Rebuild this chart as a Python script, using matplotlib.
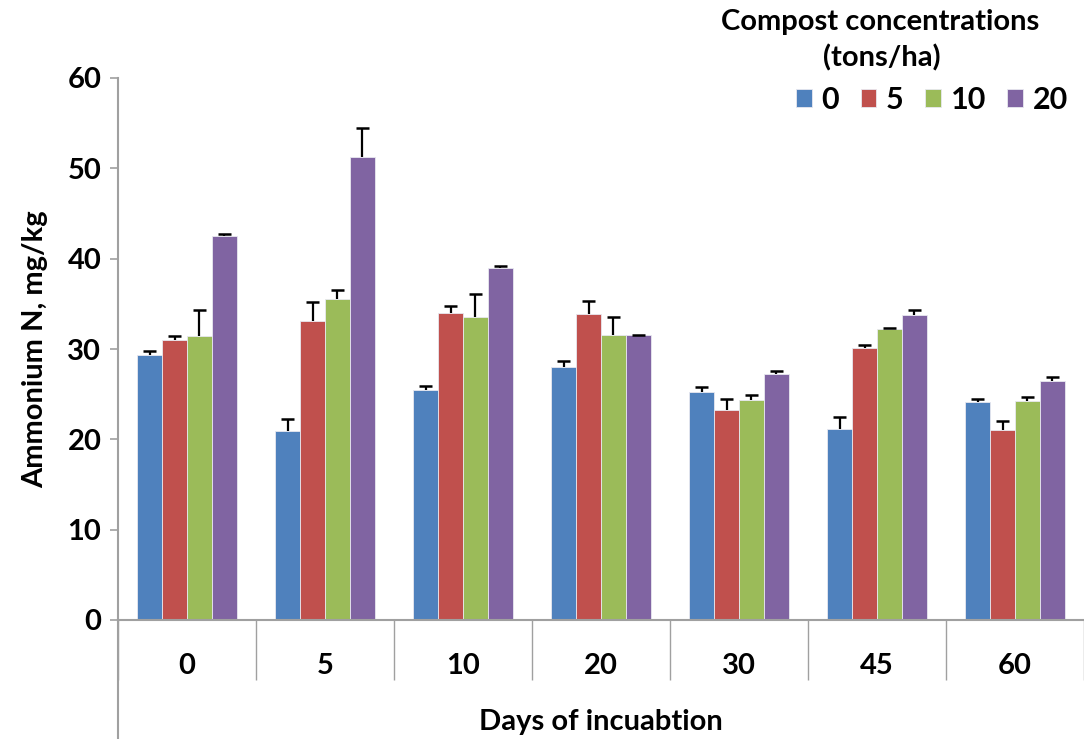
import matplotlib.pyplot as plt
import numpy as np

# days of incubation (x categories) and compost levels (series)
days = ['0', '5', '10', '20', '30', '45', '60']
levels = ['0', '5', '10', '20']

# mean ammonium N, mg/kg, one list per compost level
c0 = [29.3, 20.9, 25.5, 28.0, 25.2, 21.1, 24.1]
c5 = [31.0, 33.1, 34.0, 33.9, 23.2, 30.1, 21.0]
c10 = [31.4, 35.5, 33.5, 31.6, 24.4, 32.2, 24.2]
c20 = [42.5, 51.2, 39.0, 31.5, 27.2, 33.8, 26.5]

# error bar sizes (upper only)
e0 = [0.5, 1.35, 0.4, 0.7, 0.6, 1.4, 0.4]
e5 = [0.4, 2.1, 0.8, 1.4, 1.3, 0.3, 1.0]
e10 = [2.9, 1.0, 2.6, 1.9, 0.5, 0.15, 0.5]
e20 = [0.2, 3.3, 0.2, 0.05, 0.4, 0.5, 0.4]

colors = ['#4F81BD', '#C0504D', '#9BBB59', '#8064A2']

plt.rcParams['font.family'] = ['Lato', 'DejaVu Sans']
plt.rcParams['font.weight'] = 'bold'

fig = plt.figure(figsize=(10.84, 7.39), dpi=100)
ax = fig.add_axes([118 / 1084, 119 / 739, 966 / 1084, 542 / 739])

x = np.arange(len(days))
w = 0.181
cap = 0.045
series = [c0, c5, c10, c20]
errs = [e0, e5, e10, e20]
for i in range(4):
    pos = x + (i - 1.5) * w
    vals = np.array(series[i])
    top = vals + np.array(errs[i])
    ax.bar(pos, vals, w, color=colors[i], edgecolor='#E8E8F0', linewidth=0.6,
           label=levels[i], zorder=2)
    # upper error bars only, like the original
    ax.vlines(pos, vals, top, color='black', lw=1.6, zorder=3)
    ax.hlines(top, pos - cap, pos + cap, color='black', lw=1.8, zorder=3)

ax.set_xlim(-0.5, len(days) - 0.5)
ax.set_ylim(0, 60)
ax.set_yticks(range(0, 61, 10))
ax.tick_params(axis='y', direction='out', length=6, color='#A0A0A0', width=1.2,
               labelsize=21, pad=6)

# category labels centered, boundary tick lines hanging below
ax.set_xticks(x)
ax.set_xticklabels(days)
ax.set_xticks(np.arange(len(days) + 1) - 0.5, minor=True)
ax.tick_params(axis='x', which='major', length=0, labelsize=21, pad=24)
ax.tick_params(axis='x', which='minor', direction='out', length=43, color='#A0A0A0',
               width=1.0)

for s in ['top', 'right']:
    ax.spines[s].set_visible(False)
for s in ['left', 'bottom']:
    ax.spines[s].set_color('#A0A0A0')
    ax.spines[s].set_linewidth(1.5)

# left axis line runs down past the category labels
ax.plot([0, 0], [0, -0.23], transform=ax.transAxes, color='#A0A0A0', lw=1.5,
        clip_on=False)

ax.set_ylabel('Ammonium N, mg/kg', fontsize=21, fontweight='bold', labelpad=14)
ax.set_xlabel('Days of incuabtion', fontsize=21, fontweight='bold', labelpad=18)

# legend title as two centered lines, entries in one row below
fig.text(880 / 1084, 1 - 22 / 739, 'Compost concentrations', ha='center', va='center',
         fontsize=21, fontweight='bold')
fig.text(882 / 1084, 1 - 58 / 739, '(tons/ha)', ha='center', va='center',
         fontsize=21, fontweight='bold')
fig.legend(*ax.get_legend_handles_labels(), ncol=4, frameon=False, fontsize=22,
           loc='center right', bbox_to_anchor=(1068 / 1084, 1 - 100 / 739),
           borderaxespad=0, borderpad=0, handlelength=0.5, handleheight=0.5,
           columnspacing=0.7, handletextpad=0.33)

fig.savefig('out.png', dpi=100)
